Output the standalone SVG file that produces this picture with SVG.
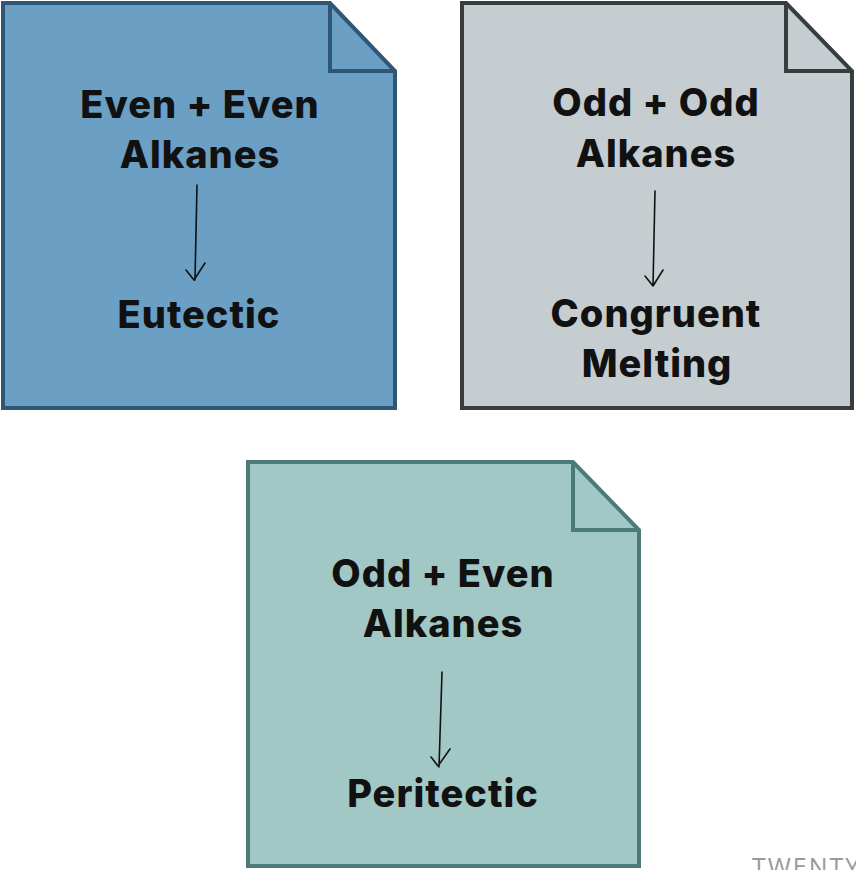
<svg xmlns="http://www.w3.org/2000/svg" width="856" height="870" viewBox="0 0 856 870">
  <style>
    .note { stroke-width: 4; stroke-linejoin: miter; }
    .fold { fill: none; stroke-width: 4; }
    .label { font-family: Inter, "Noto Sans", "Liberation Sans", sans-serif; font-weight: 800; font-size: 38px; letter-spacing: 1px; fill: #111111; text-anchor: middle; }
    .link { fill: none; stroke: #111111; stroke-width: 1.6; stroke-linecap: round; stroke-linejoin: round; }
    .brand { font-family: "Open Sans", "Liberation Sans", sans-serif; font-size: 25px; fill: #9a9a9a; letter-spacing: 2px; }
  </style>

  <rect width="856" height="870" fill="#ffffff"/>

  <!-- Even + Even note -->
  <g id="even-even">
    <path class="note" d="M3,3 H330 L395,71 V408 H3 Z" fill="#6b9fc3" stroke="#2f5675"/>
    <path class="fold" d="M330,3 V71 H395" stroke="#2f5675"/>
    <text class="label" x="200" y="118">Even + Even</text>
    <text class="label" x="200" y="168">Alkanes</text>
    <text class="label" x="199" y="328">Eutectic</text>
  </g>

  <!-- Odd + Odd note -->
  <g id="odd-odd">
    <path class="note" d="M462,3 H786 L852,71 V408 H462 Z" fill="#c5cdd1" stroke="#383d40"/>
    <path class="fold" d="M786,3 V71 H852" stroke="#383d40"/>
    <text class="label" x="656" y="116">Odd + Odd</text>
    <text class="label" x="656" y="167">Alkanes</text>
    <text class="label" x="656" y="327">Congruent</text>
    <text class="label" x="657" y="377">Melting</text>
  </g>

  <!-- Odd + Even note -->
  <g id="odd-even">
    <path class="note" d="M248,462 H573 L639,530 V866 H248 Z" fill="#a2c8c6" stroke="#4a7b77"/>
    <path class="fold" d="M573,462 V530 H639" stroke="#4a7b77"/>
    <text class="label" x="443" y="587">Odd + Even</text>
    <text class="label" x="443" y="637">Alkanes</text>
    <text class="label" x="443" y="807">Peritectic</text>
  </g>

  <!-- hand-drawn arrows -->
  <g id="connectors">
    <path class="link" d="M197,185 L195,280 M186,270 L194,280 L205,263"/>
    <path class="link" d="M655,191 L653,286 M645,276 L653,286 L663,270"/>
    <path class="link" d="M442,672 L439,767 M431,757 L438,766 L450,749"/>
  </g>

  <text class="brand" x="752" y="876">TWENTY</text>
</svg>
